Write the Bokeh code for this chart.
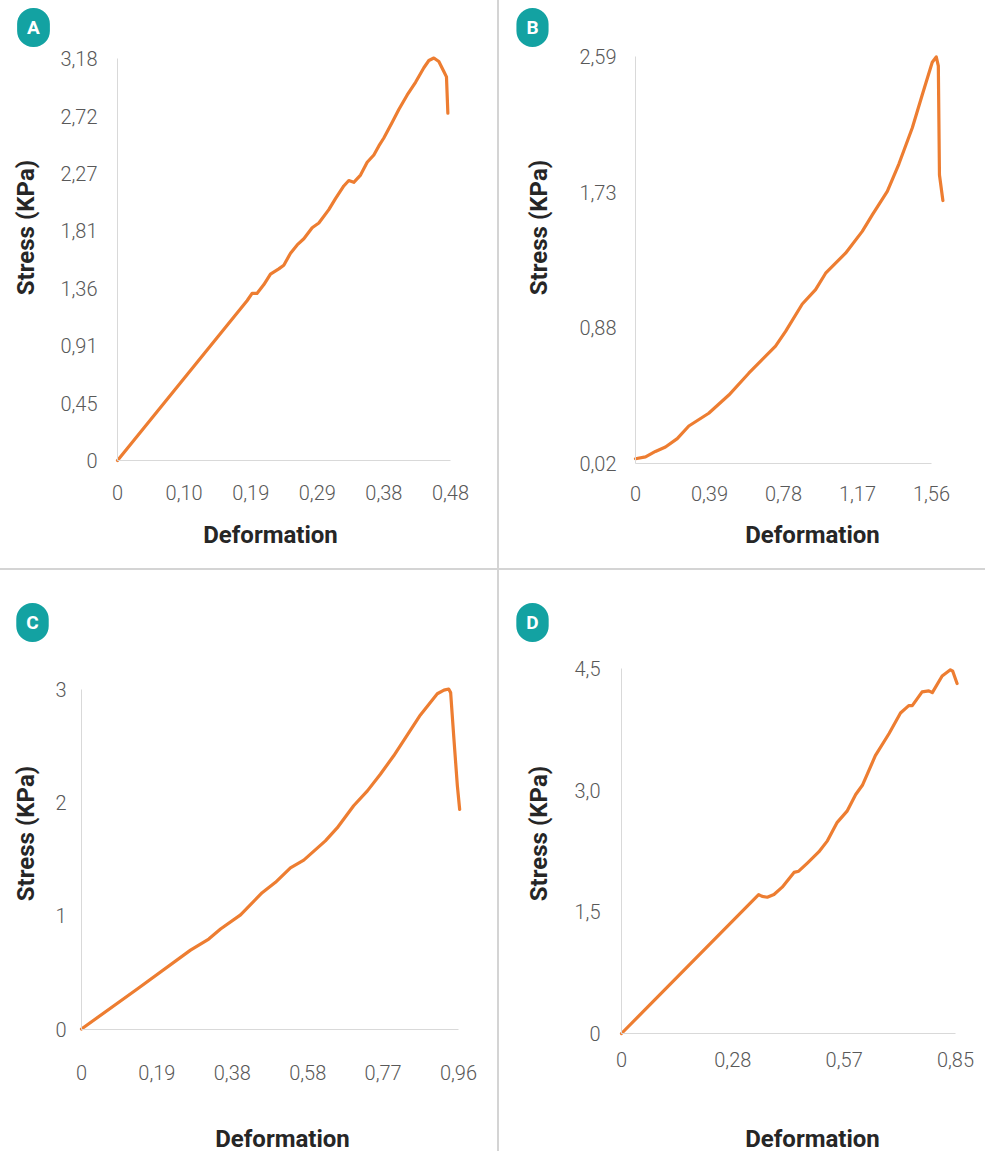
import math
from bokeh.plotting import figure
from bokeh.models import FixedTicker, Label, Spacer, Range1d
from bokeh.layouts import row, column
from bokeh.embed import file_html
from bokeh.resources import INLINE

# ---------------- data ----------------
# Panel A
a_x = [0.0, 0.187, 0.194, 0.201, 0.211, 0.2205, 0.2325, 0.2397, 0.2494, 0.259, 0.2686,
       0.2806, 0.2902, 0.3046, 0.3142, 0.3262, 0.3334, 0.3406, 0.3503, 0.3599, 0.3695,
       0.3767, 0.3839, 0.396, 0.4055, 0.4176, 0.4296, 0.4416, 0.4488, 0.456, 0.4632,
       0.4704, 0.4742, 0.4762]
a_y = [0.0, 1.264, 1.32, 1.32, 1.39, 1.473, 1.514, 1.543, 1.638, 1.703, 1.752,
       1.839, 1.876, 1.982, 2.069, 2.169, 2.212, 2.198, 2.255, 2.356, 2.414,
       2.485, 2.548, 2.672, 2.773, 2.888, 2.988, 3.103, 3.16, 3.18, 3.152,
       3.074, 3.031, 2.744]
a_xticks = [0, 0.096, 0.192, 0.288, 0.384, 0.48]
a_xlabels = ["0", "0,10", "0,19", "0,29", "0,38", "0,48"]
a_yticks = [0, 0.4536, 0.9071, 1.3607, 1.8143, 2.2679, 2.7214, 3.18]
a_ylabels = ["0", "0,45", "0,91", "1,36", "1,81", "2,27", "2,72", "3,18"]

# Panel B
b_x = [0.0, 0.053, 0.105, 0.158, 0.22, 0.281, 0.386, 0.492, 0.597, 0.738, 0.791,
       0.879, 0.949, 1.002, 1.107, 1.195, 1.248, 1.327, 1.388, 1.459, 1.511, 1.564,
       1.585, 1.596, 1.602, 1.62]
b_y = [0.047, 0.059, 0.093, 0.121, 0.174, 0.254, 0.335, 0.45, 0.588, 0.76, 0.853,
       1.026, 1.117, 1.221, 1.348, 1.486, 1.59, 1.739, 1.912, 2.142, 2.349, 2.556,
       2.59, 2.533, 1.843, 1.681]
b_xticks = [0, 0.39, 0.78, 1.17, 1.56]
b_xlabels = ["0", "0,39", "0,78", "1,17", "1,56"]
b_yticks = [0.02, 0.877, 1.733, 2.59]
b_ylabels = ["0,02", "0,88", "1,73", "2,59"]

# Panel C
c_x = [0.0, 0.142, 0.2776, 0.324, 0.354, 0.405, 0.46, 0.494, 0.532, 0.566, 0.621,
       0.651, 0.693, 0.728, 0.761, 0.795, 0.829, 0.863, 0.906, 0.923, 0.935, 0.94,
       0.948, 0.957, 0.963]
c_y = [0.0, 0.353, 0.696, 0.794, 0.882, 1.007, 1.203, 1.294, 1.422, 1.49, 1.66,
       1.774, 1.97, 2.101, 2.248, 2.411, 2.591, 2.771, 2.958, 2.99, 3.0, 2.968,
       2.575, 2.15, 1.937]
c_xticks = [0, 0.192, 0.384, 0.576, 0.768, 0.96]
c_xlabels = ["0", "0,19", "0,38", "0,58", "0,77", "0,96"]
c_yticks = [0, 1, 2, 3]
c_ylabels = ["0", "1", "2", "3"]

# Panel D
d_x = [0.0, 0.349, 0.358, 0.371, 0.388, 0.409, 0.439, 0.451, 0.473, 0.502, 0.524,
       0.549, 0.574, 0.596, 0.613, 0.646, 0.681, 0.71, 0.731, 0.74, 0.765, 0.782,
       0.791, 0.816, 0.837, 0.843, 0.854]
d_y = [0.0, 1.713, 1.69, 1.68, 1.713, 1.804, 1.986, 2.001, 2.101, 2.238, 2.375,
       2.603, 2.741, 2.946, 3.06, 3.425, 3.699, 3.951, 4.042, 4.042, 4.211, 4.225,
       4.202, 4.407, 4.484, 4.467, 4.315]
d_xticks = [0, 0.2833, 0.5667, 0.85]
d_xlabels = ["0", "0,28", "0,57", "0,85"]
d_yticks = [0, 1.5, 3.0, 4.5]
d_ylabels = ["0", "1,5", "3,0", "4,5"]

x_title = "Deformation"
y_title = "Stress (KPa)"

# ---------------- styling ----------------
ORANGE = "#ED7D31"
TEAL = "#13a2a2"
AXIS_GRAY = "#d9d9d9"
TICK_COLOR = "#595959"
TITLE_COLOR = "#262626"
SEP_COLOR = "#d4d4d4"


def panel(letter, xs, ys, xticks, xlabels, yticks, ylabels, x_min, y_min,
          canvas, xmap, ymap, xstand, ystand, ybaseline,
          letter_pos, ytitle_pos, xtitle_pos):
    """canvas = (left, top, width, height) in page pixels;
    xmap = (px0, v0, px1, v1) page pixel <-> value pairs for the x axis, same for ymap."""
    cx, cy, W, H = canvas
    px0, xv0, px1, xv1 = xmap
    sx = (px1 - px0) / (xv1 - xv0)
    x_start = xv0 - (px0 - cx) / sx
    x_end = xv0 + (cx + W - px0) / sx
    py0, yv0, py1, yv1 = ymap
    sy = (py0 - py1) / (yv1 - yv0)
    y_start = yv0 - (cy + H - py0) / sy
    y_end = yv0 + (py0 - cy) / sy

    p = figure(output_backend="svg", toolbar_location=None,
               x_range=Range1d(x_start, x_end), y_range=Range1d(y_start, y_end),
               frame_width=W, frame_height=H,
               min_border_left=0, min_border_right=0, min_border_top=0, min_border_bottom=0)
    p.background_fill_color = "white"
    p.border_fill_color = "white"
    p.outline_line_color = None
    p.grid.visible = False

    p.line(xs, ys, line_color=ORANGE, line_width=3.2, line_join="round", line_cap="round")

    for ax, ticks, labels, stand, loc in ((p.xaxis[0], xticks, xlabels, xstand, y_min),
                                          (p.yaxis[0], yticks, ylabels, ystand, x_min)):
        ax.fixed_location = loc
        ax.ticker = FixedTicker(ticks=ticks)
        ax.major_label_overrides = {t: l for t, l in zip(ticks, labels)}
        ax.bounds = (min(ticks), max(ticks))
        ax.axis_line_color = AXIS_GRAY
        ax.axis_line_width = 1
        ax.major_tick_line_color = None
        ax.minor_tick_line_color = None
        ax.major_tick_out = 0
        ax.major_tick_in = 0
        ax.major_label_standoff = stand
        ax.major_label_text_font = "Roboto Light"
        ax.major_label_text_font_size = "20px"
        ax.major_label_text_color = TICK_COLOR
    p.yaxis[0].major_label_text_baseline = ybaseline

    def scr(pos):
        return pos[0] - cx, cy + H - pos[1]

    lx, ly = scr(letter_pos)
    p.add_layout(Label(x=lx, y=ly, x_units="screen", y_units="screen", text=letter,
                       text_color="white", text_font="Roboto", text_font_style="bold",
                       text_font_size="19px", text_align="center", text_baseline="middle",
                       background_fill_color=TEAL, border_radius=16, padding=(10, 8)))
    tx, ty = scr(ytitle_pos)
    p.add_layout(Label(x=tx, y=ty, x_units="screen", y_units="screen", text=y_title,
                       angle=math.pi / 2, text_color=TITLE_COLOR, text_font="Roboto",
                       text_font_style="bold", text_font_size="24px",
                       text_align="center", text_baseline="middle"))
    tx, ty = scr(xtitle_pos)
    p.add_layout(Label(x=tx, y=ty, x_units="screen", y_units="screen", text=x_title,
                       text_color=TITLE_COLOR, text_font="Roboto",
                       text_font_style="bold", text_font_size="24px",
                       text_align="center", text_baseline="middle"))
    return p


pA = panel("A", a_x, a_y, a_xticks, a_xlabels, a_yticks, a_ylabels, 0, 0,
           (0, 0, 497, 568), (117, 0, 450, 0.48), (460, 0, 57.5, 3.18),
           24, 20, "top", (33, 27), (25, 227), (270, 534))
pB = panel("B", b_x, b_y, b_xticks, b_xlabels, b_yticks, b_ylabels, 0, 0.02,
           (499, 0, 486, 568), (635, 0, 931, 1.56), (462.5, 0.02, 56.4, 2.59),
           23, 19, "middle", (532, 27), (538, 227), (812, 534))
pC = panel("C", c_x, c_y, c_xticks, c_xlabels, c_yticks, c_ylabels, 0, 0,
           (0, 570, 497, 581), (81, 0, 458, 0.96), (1028.5, 0, 688.5, 3),
           36, 15, "middle", (32, 622), (25, 833), (282, 1138))
pD = panel("D", d_x, d_y, d_xticks, d_xlabels, d_yticks, d_ylabels, 0, 0,
           (499, 570, 486, 581), (621, 0, 955, 0.85), (1033, 0, 668, 4.5),
           18, 21, "middle", (532, 622), (538, 833), (812, 1138))

h1 = Spacer(width=497, height=2, margin=0, styles={"background-color": SEP_COLOR})
h2 = Spacer(width=486, height=2, margin=0, styles={"background-color": SEP_COLOR})
v1 = Spacer(width=2, height=1151, margin=0, styles={"background-color": SEP_COLOR})

layout = row(column(pA, h1, pC), v1, column(pB, h2, pD))

open("out.html", "w").write(file_html(layout, INLINE))
